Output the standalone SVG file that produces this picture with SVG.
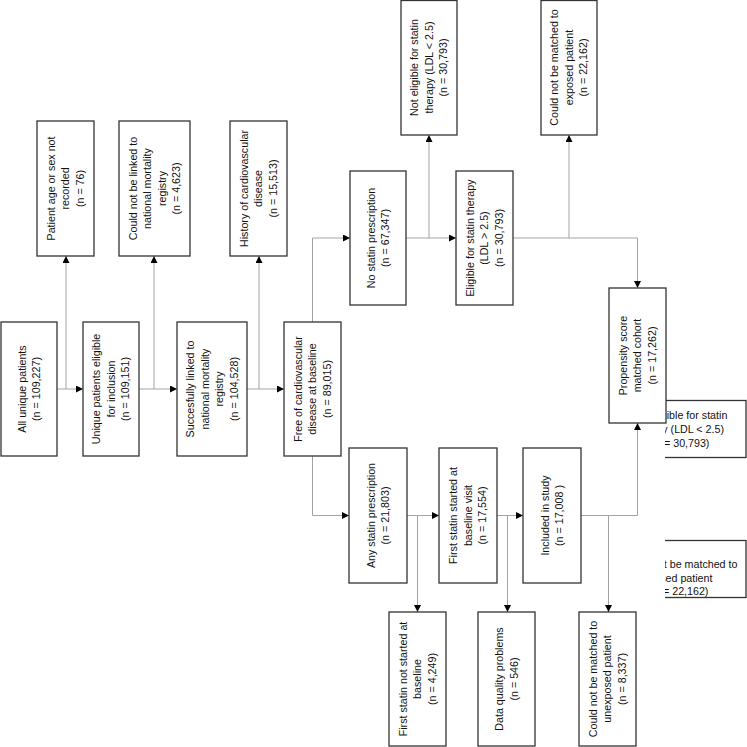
<svg xmlns="http://www.w3.org/2000/svg" width="747" height="747" viewBox="0 0 747 747">
<style>
.box{fill:#fff;stroke:#333;stroke-width:1.3}
.t{font-family:"Liberation Sans",Arial,sans-serif;font-size:10.7px;fill:#111;text-anchor:middle}
.th{font-family:"Liberation Sans",Arial,sans-serif;font-size:10.7px;fill:#111;text-anchor:start}
.c{fill:none;stroke:#a3a3a3;stroke-width:1}
</style>
<defs>
<marker id="arr" markerUnits="userSpaceOnUse" markerWidth="8" markerHeight="8" refX="7" refY="3.5" orient="auto">
<path d="M0,0 L7,3.5 L0,7 z" fill="#000"/>
</marker>
<clipPath id="clipR"><rect x="665" y="0" width="82" height="747"/></clipPath>
</defs>
<rect width="747" height="747" fill="#fff"/>

<g id="connectors">
<path class="c" d="M57,389 H83" marker-end="url(#arr)"/>
<path class="c" d="M66,389 V256" marker-end="url(#arr)"/>
<path class="c" d="M139,389 H177" marker-end="url(#arr)"/>
<path class="c" d="M154,389 V256" marker-end="url(#arr)"/>
<path class="c" d="M247,389 H284" marker-end="url(#arr)"/>
<path class="c" d="M259,389 V256" marker-end="url(#arr)"/>
<path class="c" d="M312.5,322 V238 H350" marker-end="url(#arr)"/>
<path class="c" d="M312.5,456 V515.5 H349" marker-end="url(#arr)"/>
<path class="c" d="M406,238 H456" marker-end="url(#arr)"/>
<path class="c" d="M429,238 V135" marker-end="url(#arr)"/>
<path class="c" d="M513,238 H637.5 V288" marker-end="url(#arr)"/>
<path class="c" d="M569,238 V135" marker-end="url(#arr)"/>
<path class="c" d="M407,515.5 H439" marker-end="url(#arr)"/>
<path class="c" d="M417.5,515.5 V612" marker-end="url(#arr)"/>
<path class="c" d="M497,515.5 H523" marker-end="url(#arr)"/>
<path class="c" d="M507.5,515.5 V612" marker-end="url(#arr)"/>
<path class="c" d="M581,515.5 H637.5 V423" marker-end="url(#arr)"/>
<path class="c" d="M608.5,515.5 V612" marker-end="url(#arr)"/>
</g>

<g id="overflow-labels" clip-path="url(#clipR)">
<rect class="box" x="600" y="400.5" width="146" height="57"/>
<text class="th" y="419"><tspan x="630.5">Not eligible for statin</tspan><tspan x="632" y="433">therapy (LDL &lt; 2.5)</tspan><tspan x="651.5" y="447">(n = 30,793)</tspan></text>
<rect class="box" x="600" y="540.5" width="146" height="57"/>
<text class="th" y="568"><tspan x="621">Could not be matched to</tspan><tspan x="637" y="581.5">exposed patient</tspan><tspan x="650.5" y="595">(n = 22,162)</tspan></text>
</g>

<g id="n-all">
<rect class="box" x="1" y="322" width="56" height="134"/>
<text class="t" transform="translate(29,389) rotate(-90)"><tspan x="0" dy="-3.5">All unique patients</tspan><tspan x="0" dy="14.5">(n = 109,227)</tspan></text>
</g>
<g id="n-eligible">
<rect class="box" x="83" y="322" width="56" height="134"/>
<text class="t" transform="translate(111,389) rotate(-90)"><tspan x="0" dy="-10.7">Unique patients eligible</tspan><tspan x="0" dy="14.5">for inclusion</tspan><tspan x="0" dy="14.5">(n = 109,151)</tspan></text>
</g>
<g id="n-linked">
<rect class="box" x="177" y="322" width="70" height="134"/>
<text class="t" transform="translate(212,389) rotate(-90)"><tspan x="0" dy="-17.95">Succesfully linked to</tspan><tspan x="0" dy="14.5">national mortality</tspan><tspan x="0" dy="14.5">registry</tspan><tspan x="0" dy="14.5">(n = 104,528)</tspan></text>
</g>
<g id="n-free">
<rect class="box" x="284" y="322" width="57" height="134"/>
<text class="t" transform="translate(312.5,389) rotate(-90)"><tspan x="0" dy="-10.7">Free of cardiovascular</tspan><tspan x="0" dy="14.5">disease at baseline</tspan><tspan x="0" dy="14.5">(n = 89,015)</tspan></text>
</g>
<g id="n-age">
<rect class="box" x="37" y="121" width="57" height="135"/>
<text class="t" transform="translate(65.5,188.5) rotate(-90)"><tspan x="0" dy="-10.7">Patient age or sex not</tspan><tspan x="0" dy="14.5">recorded</tspan><tspan x="0" dy="14.5">(n = 76)</tspan></text>
</g>
<g id="n-nolink">
<rect class="box" x="119" y="121" width="71" height="135"/>
<text class="t" transform="translate(154.5,188.5) rotate(-90)"><tspan x="0" dy="-17.95">Could not be linked to</tspan><tspan x="0" dy="14.5">national mortality</tspan><tspan x="0" dy="14.5">registry</tspan><tspan x="0" dy="14.5">(n = 4,623)</tspan></text>
</g>
<g id="n-history">
<rect class="box" x="230" y="121" width="57" height="135"/>
<text class="t" transform="translate(258.5,188.5) rotate(-90)"><tspan x="0" dy="-10.7">History of cardiovascular</tspan><tspan x="0" dy="14.5">disease</tspan><tspan x="0" dy="14.5">(n = 15,513)</tspan></text>
</g>
<g id="n-nostatin">
<rect class="box" x="350" y="171" width="56" height="134"/>
<text class="t" transform="translate(378,238) rotate(-90)"><tspan x="0" dy="-3.5">No statin prescription</tspan><tspan x="0" dy="14.5">(n = 67,347)</tspan></text>
</g>
<g id="n-eligstatin">
<rect class="box" x="456" y="171" width="57" height="134"/>
<text class="t" transform="translate(484.5,238) rotate(-90)"><tspan x="0" dy="-10.7">Eligible for statin therapy</tspan><tspan x="0" dy="14.5">(LDL &gt; 2.5)</tspan><tspan x="0" dy="14.5">(n = 30,793)</tspan></text>
</g>
<g id="n-noteligible">
<rect class="box" x="401" y="0.5" width="56" height="134.5"/>
<text class="t" transform="translate(429,67.5) rotate(-90)"><tspan x="0" dy="-10.7">Not eligible for statin</tspan><tspan x="0" dy="14.5">therapy (LDL &lt; 2.5)</tspan><tspan x="0" dy="14.5">(n = 30,793)</tspan></text>
</g>
<g id="n-nomatch-exposed">
<rect class="box" x="541" y="0.5" width="56" height="134.5"/>
<text class="t" transform="translate(569,67.5) rotate(-90)"><tspan x="0" dy="-10.7">Could not be matched to</tspan><tspan x="0" dy="14.5">exposed patient</tspan><tspan x="0" dy="14.5">(n = 22,162)</tspan></text>
</g>
<g id="n-propensity">
<rect class="box" x="609" y="288" width="57" height="135"/>
<text class="t" transform="translate(637.5,355.5) rotate(-90)"><tspan x="0" dy="-10.7">Propensity score</tspan><tspan x="0" dy="14.5">matched cohort</tspan><tspan x="0" dy="14.5">(n = 17,262)</tspan></text>
</g>
<g id="n-anystatin">
<rect class="box" x="349" y="448" width="58" height="135"/>
<text class="t" transform="translate(378,515.5) rotate(-90)"><tspan x="0" dy="-3.5">Any statin prescription</tspan><tspan x="0" dy="14.5">(n = 21,803)</tspan></text>
</g>
<g id="n-firststatin">
<rect class="box" x="439" y="448" width="58" height="135"/>
<text class="t" transform="translate(468,515.5) rotate(-90)"><tspan x="0" dy="-10.7">First statin started at</tspan><tspan x="0" dy="14.5">baseline visit</tspan><tspan x="0" dy="14.5">(n = 17,554)</tspan></text>
</g>
<g id="n-included">
<rect class="box" x="523" y="448" width="58" height="135"/>
<text class="t" transform="translate(552,515.5) rotate(-90)"><tspan x="0" dy="-3.5">Included in study</tspan><tspan x="0" dy="14.5">(n = 17,008 )</tspan></text>
</g>
<g id="n-notstarted">
<rect class="box" x="389" y="612" width="57" height="134"/>
<text class="t" transform="translate(417.5,679) rotate(-90)"><tspan x="0" dy="-10.7">First statin not started at</tspan><tspan x="0" dy="14.5">baseline</tspan><tspan x="0" dy="14.5">(n = 4,249)</tspan></text>
</g>
<g id="n-dataquality">
<rect class="box" x="478" y="612" width="57" height="134"/>
<text class="t" transform="translate(506.5,679) rotate(-90)"><tspan x="0" dy="-3.5">Data quality problems</tspan><tspan x="0" dy="14.5">(n = 546)</tspan></text>
</g>
<g id="n-nomatch-unexposed">
<rect class="box" x="579" y="612" width="57" height="134"/>
<text class="t" transform="translate(607.5,679) rotate(-90)"><tspan x="0" dy="-10.7">Could not be matched to</tspan><tspan x="0" dy="14.5">unexposed patient</tspan><tspan x="0" dy="14.5">(n = 8,337)</tspan></text>
</g>
</svg>
